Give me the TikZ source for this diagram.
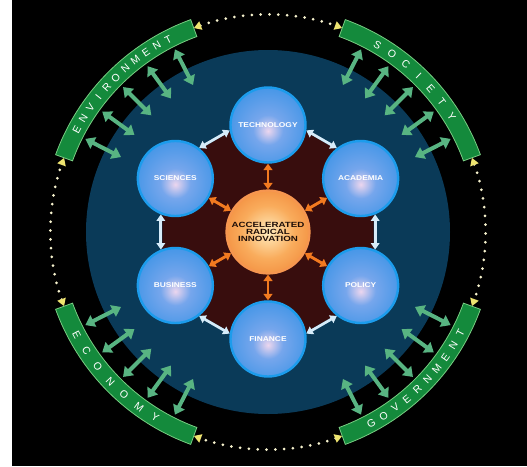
\documentclass[tikz,border=0pt]{standalone}
\usepackage{fontspec}
\setmainfont{Liberation Sans}
\usepackage{graphicx}
\usetikzlibrary{arrows.meta}
\definecolor{bgteal}{RGB}{10,58,88}
\definecolor{hexbrown}{RGB}{56,13,13}
\definecolor{bandgreen}{RGB}{20,138,60}
\definecolor{bandedge}{RGB}{120,205,130}
\definecolor{arrowgreen}{RGB}{88,180,130}
\definecolor{ballin}{RGB}{236,214,238}
\definecolor{ballmid}{RGB}{118,166,236}
\definecolor{ballout}{RGB}{56,146,230}
\definecolor{ballout2}{RGB}{40,134,224}
\definecolor{ballrim}{RGB}{28,156,236}
\definecolor{corein}{RGB}{255,236,190}
\definecolor{coremid}{RGB}{249,172,92}
\definecolor{coreout}{RGB}{236,110,32}
\definecolor{corerim}{RGB}{246,150,80}
\definecolor{coretext}{RGB}{30,14,8}
\definecolor{orangearrow}{RGB}{242,122,32}
\definecolor{palearrow}{RGB}{214,236,250}
\definecolor{dotcol}{RGB}{246,242,205}
\definecolor{dothead}{RGB}{238,228,112}
\pgfdeclareradialshading{blueball}{\pgfpoint{0bp}{-4bp}}{color(0bp)=(ballin); color(10bp)=(ballmid); color(32bp)=(ballout); color(50bp)=(ballout2)}
\pgfdeclareradialshading{coreball}{\pgfpoint{0bp}{0bp}}{color(0bp)=(corein); color(16bp)=(coremid); color(42bp)=(coreout); color(50bp)=(coreout)}
\newcommand\widetxt[1]{\scalebox{1.3}[1]{#1}}
\newcommand\arcword[5]{%
  \foreach \ch [count=\k from 0] in {#1} {%
    \pgfmathsetmacro\th{#2+\k*(#3)}%
    \node[bandtext, rotate={\th+(#4)}] (#5\k) at (\th:217) {\ch};
  }%
}
\begin{document}
\begin{tikzpicture}[x=1pt,y=1pt,
  ball/.style={circle, minimum size=75pt, inner sep=0pt, draw=ballrim, line width=2.4pt, shade, shading=blueball, text=white, font=\fontsize{7}{7}\selectfont\bfseries},
  core/.style={circle, minimum size=83pt, inner sep=0pt, draw=corerim, line width=2.2pt, shade, shading=coreball, text=coretext, align=center, font=\fontsize{7.5}{7}\selectfont\bfseries},
  band/.style={fill=bandgreen, draw=bandedge, line width=0.8pt},
  bandtext/.style={text=white, font=\fontsize{10.5}{10.5}\selectfont, inner sep=0pt, text height=7.5pt, text depth=0pt},
  greenarrow/.style={arrowgreen, line width=4pt, {Triangle[width=12.5pt,length=9pt]}-{Triangle[width=12.5pt,length=9pt]}},
  palearrowstyle/.style={palearrow, line width=2.7pt, {Triangle[width=8.5pt,length=6.5pt]}-{Triangle[width=8.5pt,length=6.5pt]}},
  orangearrowstyle/.style={orangearrow, line width=2.9pt, {Triangle[width=9pt,length=6.5pt]}-{Triangle[width=9pt,length=6.5pt]}},
  dotline/.style={dotcol, line width=3pt, line cap=round, dash pattern=on 0pt off 8.8pt, {Triangle[width=8.5pt,length=7.5pt,color=dothead]}-{Triangle[width=8.5pt,length=7.5pt,color=dothead]}},
]
\useasboundingbox (-268,-234) rectangle (259,232);
\fill[white] (-268,-234) rectangle (-256,232);
\fill[black] (-256,-234) rectangle (259,232);
\fill[bgteal] (0,0) circle[radius=182];
\fill[hexbrown] (90:122) -- (30:122) -- (-30:122) -- (-90:122) -- (-150:122) -- (150:122) -- cycle;
% dotted links between the bands
\draw[dotline] (110:217) arc[start angle=110, end angle=70, radius=217];
\draw[dotline] (20:217) arc[start angle=20, end angle=-20, radius=217];
\draw[dotline] (-70:217) arc[start angle=-70, end angle=-110, radius=217];
\draw[dotline] (-160:217) arc[start angle=-160, end angle=-200, radius=217];
% green bands
\foreach \c in {45,135,225,315} {
  \draw[band] (\c-25:208) arc[start angle=\c-25, end angle=\c+25, radius=208] -- (\c+25:226) arc[start angle=\c+25, end angle=\c-25, radius=226] -- cycle;
}
\arcword{E,N,V,I,R,O,N,M,E,N,T}{151.8}{-3.44}{-90}{env}
\arcword{S,O,C,I,E,T,Y}{59.7}{-4.58}{-90}{soc}
\arcword{E,C,O,N,O,M,Y}{208.2}{5.08}{90}{eco}
\arcword{G,O,V,E,R,N,M,E,N,T}{298.4}{3.77}{90}{gov}
% green arrows
\foreach \c [count=\q] in {45,135,225,315} {
  \foreach \d [count=\k] in {-18,-9,0,9,18} {
    \coordinate (go\q\k) at (\c+\d:205);
    \coordinate (gi\q\k) at (\c+\d:165);
    \draw[greenarrow] (go\q\k) -- (gi\q\k);
  }
}
% circles
\node[core] (core) at (0,0) {\widetxt{ACCELERATED}\\\widetxt{RADICAL}\\\widetxt{INNOVATION}};
\foreach \name/\ang/\lab in {b0/90/TECHNOLOGY, b1/30/ACADEMIA, b2/-30/POLICY, b3/-90/FINANCE, b4/-150/BUSINESS, b5/150/SCIENCES}
  \node[ball] (\name) at (\ang:107) {\scalebox{1.2}[1]{\lab}};
% arrows between neighbours
\foreach \i in {0,...,5} {
  \pgfmathtruncatemacro\j{mod(\i+1,6)}
  \pgfmathtruncatemacro\aa{90-60*\i-98}
  \pgfmathtruncatemacro\bb{90-60*\i-60+98}
  \draw[palearrowstyle] (b\i.\aa) -- (b\j.\bb);
}
% arrows from the core
\foreach \i in {0,...,5} {
  \pgfmathtruncatemacro\aa{90-60*\i}
  \pgfmathtruncatemacro\bb{270-60*\i}
  \draw[orangearrowstyle] (core.\aa) -- (b\i.\bb);
}
\end{tikzpicture}
\end{document}
